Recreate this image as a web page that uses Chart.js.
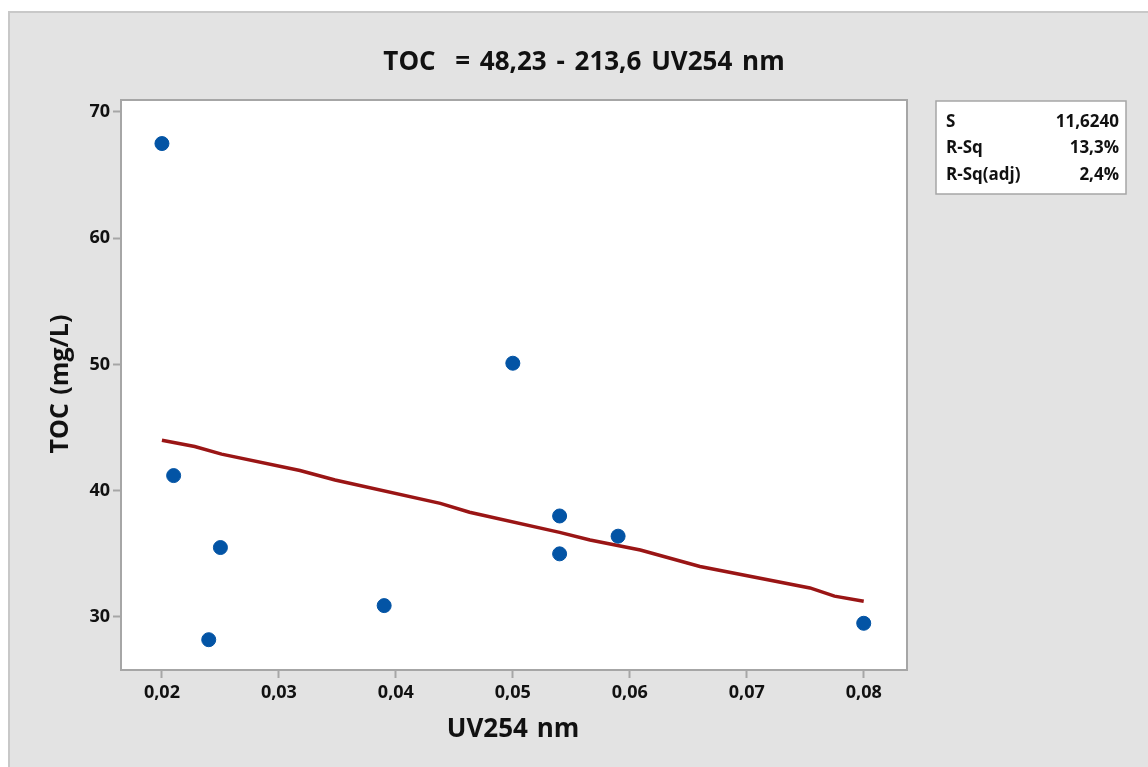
<!DOCTYPE html>
<html>
<head>
<meta charset="utf-8">
<script src="https://cdn.jsdelivr.net/npm/chart.js@4"></script>
<style>
	html, body { margin: 0; padding: 0; background: #fff; }
	#wrap { position: absolute; left: 0; top: 0; width: 1148px; height: 767px; }
</style>
</head>
<body>
<div id="wrap"><canvas id="grafico" width="1148" height="767"></canvas></div>
<script>
// dados
const uv254 = [0.020, 0.021, 0.024, 0.025, 0.039, 0.050, 0.054, 0.054, 0.059, 0.080];
const toc = [67.5, 41.2, 28.2, 35.5, 30.9, 50.1, 38.0, 35.0, 36.4, 29.5];
const ajusteX = [0.020, 0.0228, 0.0251, 0.0318, 0.0348, 0.0438, 0.0463, 0.0540, 0.0566, 0.0609, 0.0660, 0.0754, 0.0775, 0.080];
const ajusteY = [44.0, 43.5, 42.9, 41.6, 40.85, 39.0, 38.3, 36.7, 36.1, 35.3, 34.0, 32.3, 31.65, 31.25];
const xTicks = [0.02, 0.03, 0.04, 0.05, 0.06, 0.07, 0.08];
const yTicks = [30, 40, 50, 60, 70];
const titulo = "TOC  = 48,23 - 213,6 UV254 nm";
const tituloX = "UV254 nm";
const tituloY = "TOC (mg/L)";
const legendaNomes = ["S", "R-Sq", "R-Sq(adj)"];
const legendaValores = ["11,6240", "13,3%", "2,4%"];

const fonte = "'Open Sans', 'Noto Sans', sans-serif";

const fundo = {
	id: 'fundo',
	beforeDraw(chart) {
		const c = chart.ctx;
		c.save();
		c.fillStyle = '#fff';
		c.fillRect(0, 0, chart.width, chart.height);
		c.fillStyle = '#e3e3e3';
		c.fillRect(9, 12, chart.width - 9, chart.height - 12);
		c.strokeStyle = '#c8c8c8';
		c.lineWidth = 2;
		c.beginPath();
		c.moveTo(9, chart.height);
		c.lineTo(9, 12);
		c.lineTo(chart.width, 12);
		c.stroke();
		const a = chart.chartArea;
		c.fillStyle = '#fff';
		c.fillRect(a.left, a.top, a.right - a.left, a.bottom - a.top);
		c.restore();
	},
	afterDraw(chart) {
		const c = chart.ctx;
		const a = chart.chartArea;
		c.save();
		c.strokeStyle = '#a6a6a6';
		c.lineWidth = 2;
		c.strokeRect(a.left, a.top, a.right - a.left, a.bottom - a.top);

		c.fillStyle = '#111';
		c.textAlign = 'center';
		c.textBaseline = 'middle';
		c.font = "bold 26px " + fonte;
		c.wordSpacing = '3px';
		c.fillText(titulo, 584, 63);
		c.wordSpacing = '2px';
		c.fillText(tituloX, 513, 730);
		c.font = "bold 25px " + fonte;
		c.save();
		c.translate(61, 384);
		c.rotate(-Math.PI / 2);
		c.fillText(tituloY, 0, 0);
		c.restore();
		c.wordSpacing = '0px';

		// caixa de estatísticas
		c.fillStyle = '#fff';
		c.fillRect(936, 101, 190, 93);
		c.strokeStyle = '#a6a6a6';
		c.lineWidth = 1.5;
		c.strokeRect(936, 101, 190, 93);
		c.fillStyle = '#111';
		c.font = "bold 17px " + fonte;
		for (let i = 0; i < legendaNomes.length; i++) {
			const y = 122 + i * 26.5;
			c.textAlign = 'left';
			c.fillText(legendaNomes[i], 946, y);
			c.textAlign = 'right';
			c.fillText(legendaValores[i], 1119, y);
		}
		c.restore();
	}
};

const virgula = (v, casas) => v.toFixed(casas).replace('.', ',');

new Chart(document.getElementById('grafico'), {
	type: 'scatter',
	data: {
		datasets: [{
			label: 'Ajuste',
			type: 'line',
			data: ajusteX.map((x, i) => ({ x: x, y: ajusteY[i] })),
			borderColor: '#9a1515',
			borderWidth: 3.5,
			pointRadius: 0,
			fill: false,
			order: 2
		}, {
			label: 'TOC',
			data: uv254.map((x, i) => ({ x: x, y: toc[i] })),
			backgroundColor: '#0354a5',
			borderColor: '#0354a5',
			pointRadius: 7,
			pointHoverRadius: 7,
			order: 1
		}]
	},
	options: {
		responsive: false,
		animation: false,
		layout: { padding: { left: 0, top: 100, right: 241, bottom: 0 } },
		plugins: {
			legend: { display: false },
			title: { display: false },
			tooltip: { enabled: false }
		},
		scales: {
			x: {
				type: 'linear',
				min: 0.0165,
				max: 0.0837,
				afterBuildTicks: (s) => { s.ticks = xTicks.map(v => ({ value: v })); },
				afterFit: (s) => { s.height = 97; },
				border: { display: false },
				grid: { drawOnChartArea: false, tickLength: 8, tickColor: '#a6a6a6', tickWidth: 2 },
				ticks: {
					color: '#111',
					padding: 4,
					maxRotation: 0,
					font: { family: fonte, size: 18, weight: 'bold' },
					callback: (v) => virgula(v, 2)
				}
			},
			y: {
				min: 25.8,
				max: 70.95,
				afterBuildTicks: (s) => { s.ticks = yTicks.map(v => ({ value: v })); },
				afterFit: (s) => { s.width = 121; },
				border: { display: false },
				grid: { drawOnChartArea: false, tickLength: 8, tickColor: '#a6a6a6', tickWidth: 2 },
				ticks: {
					color: '#111',
					padding: 3,
					font: { family: fonte, size: 18, weight: 'bold' },
					callback: (v) => String(v)
				}
			}
		}
	},
	plugins: [fundo]
});
</script>
</body>
</html>
